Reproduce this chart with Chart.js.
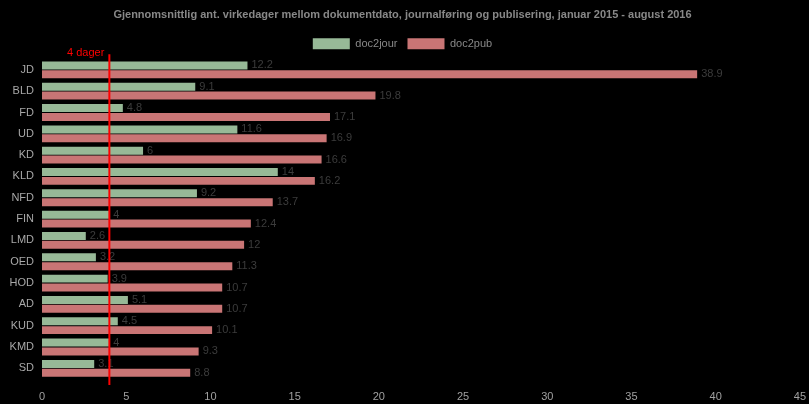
<!DOCTYPE html>
<html><head><meta charset="utf-8">
<script src="https://cdn.jsdelivr.net/npm/chart.js@4"></script>
<style>html,body{margin:0;padding:0;background:#000;}#wrap{width:809px;height:404px;}</style>
</head><body><div id="wrap"><canvas id="c"></canvas></div>
<script>
const categories = ["JD","BLD","FD","UD","KD","KLD","NFD","FIN","LMD","OED","HOD","AD","KUD","KMD","SD"];
const doc2jour = [12.2,9.1,4.8,11.6,6,14,9.2,4,2.6,3.2,3.9,5.1,4.5,4,3.1];
const doc2pub = [38.9,19.8,17.1,16.9,16.6,16.2,13.7,12.4,12,11.3,10.7,10.7,10.1,9.3,8.8];
const xTicks = [0,5,10,15,20,25,30,35,40,45];
const refValue = 4;
const refLabel = "4 dager";
const titleText = "Gjennomsnittlig ant. virkedager mellom dokumentdato, journalføring og publisering, januar 2015 - august 2016";

const FONT = "'Liberation Sans', Arial, sans-serif";

const valueLabels = {
  id: 'valueLabels',
  afterDatasetsDraw(chart) {
    const ctx = chart.ctx;
    ctx.save();
    ctx.font = "11px " + FONT;
    ctx.fillStyle = "#3c3c3c";
    ctx.textAlign = "left";
    ctx.textBaseline = "middle";
    chart.data.datasets.forEach((ds, i) => {
      chart.getDatasetMeta(i).data.forEach((bar, j) => {
        ctx.fillText(String(ds.data[j]), bar.x + 4, bar.y);
      });
    });
    ctx.restore();
  }
};

const refLine = {
  id: 'refLine',
  afterDraw(chart) {
    const ctx = chart.ctx;
    const x = chart.scales.x.getPixelForValue(refValue);
    const area = chart.chartArea;
    ctx.save();
    ctx.strokeStyle = "#ff0000";
    ctx.lineWidth = 2;
    ctx.beginPath();
    ctx.moveTo(x, area.top - 5);
    ctx.lineTo(x, area.bottom + 6);
    ctx.stroke();
    ctx.font = "11px " + FONT;
    ctx.fillStyle = "#ff0000";
    ctx.textAlign = "right";
    ctx.textBaseline = "middle";
    ctx.fillText(refLabel, x - 5, area.top - 6);
    ctx.restore();
  }
};

new Chart(document.getElementById('c'), {
  type: 'bar',
  data: {
    labels: categories,
    datasets: [
      { label: 'doc2jour', data: doc2jour, backgroundColor: '#97b997', borderWidth: 0 },
      { label: 'doc2pub', data: doc2pub, backgroundColor: '#c97575', borderWidth: 0 }
    ]
  },
  options: {
    indexAxis: 'y',
    responsive: true,
    maintainAspectRatio: false,
    animation: false,
    categoryPercentage: 0.83,
    barPercentage: 0.9,
    layout: { padding: { left: 0, right: 4, top: 0, bottom: 0 } },
    plugins: {
      title: {
        display: true, text: titleText, color: '#888',
        font: { family: FONT, size: 11, weight: 'bold' },
        padding: { top: 8, bottom: 7 }
      },
      legend: {
        display: true,
        labels: {
          color: '#888', boxWidth: 37, boxHeight: 11,
          font: { family: FONT, size: 11 }, padding: 10
        }
      },
      tooltip: { enabled: false }
    },
    scales: {
      x: {
        min: 0, max: 45,
        afterBuildTicks(scale) { scale.ticks = xTicks.map(v => ({ value: v })); },
        afterFit(scale) { scale.height = 25; },
        grid: { display: false },
        border: { display: false },
        ticks: { color: '#a0a0a0', font: { family: FONT, size: 11 }, padding: 3 }
      },
      y: {
        afterFit(scale) { scale.width = 42; },
        grid: { display: false },
        border: { display: false },
        ticks: { color: '#a8a8a8', font: { family: FONT, size: 11 }, padding: 0 }
      }
    }
  },
  plugins: [valueLabels, refLine]
});
</script></body></html>
